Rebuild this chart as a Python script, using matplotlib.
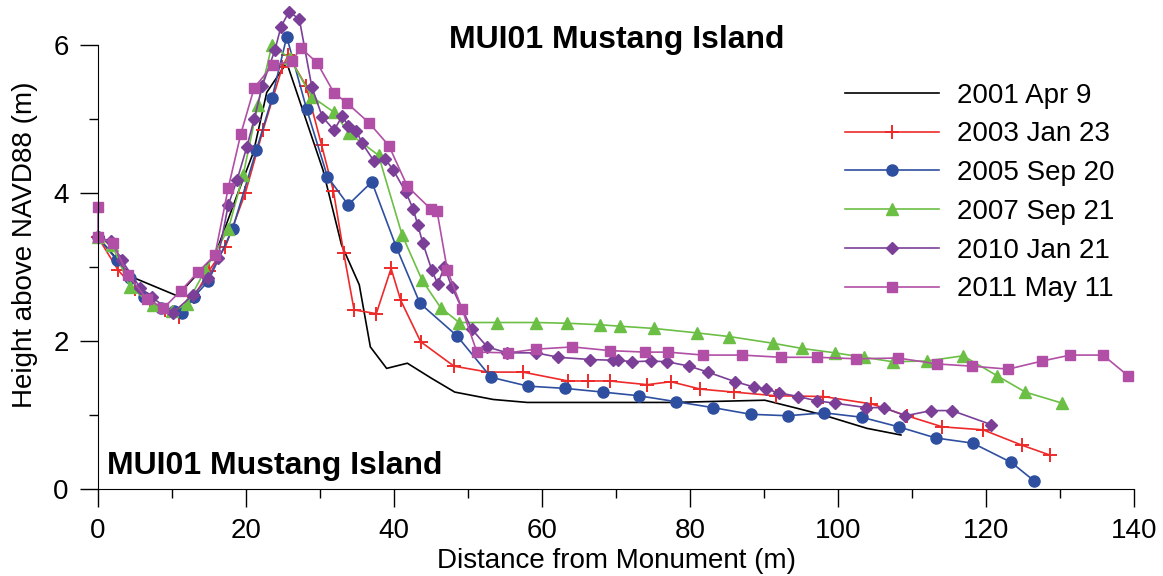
import matplotlib
matplotlib.use("Agg")
import matplotlib.pyplot as plt
from matplotlib.ticker import MultipleLocator

plt.rcParams['font.family'] = ['Liberation Sans', 'DejaVu Sans']

# 2001 Apr 9 (line only)
x_2001 = [0, 4.7, 10.7, 15.8, 18.9, 21.0, 22.8, 25.5, 30.4, 32.9, 35.3, 36.8, 39.0, 41.8, 45.0,
          48.2, 53.4, 58.0, 77.7, 90.1, 94.5, 98.0, 103.9, 108.5]
y_2001 = [3.4, 2.86, 2.61, 3.16, 4.0, 4.55, 5.36, 5.76, 4.31, 3.30, 2.76, 1.92, 1.63, 1.70, 1.50,
          1.31, 1.21, 1.17, 1.17, 1.20, 1.09, 1.0, 0.82, 0.73]

# 2003 Jan 23
x_2003 = [0, 2.7, 5.0, 7.0, 9.0, 10.9, 13.0, 15.0, 17.2, 19.9, 22.3, 24.9, 25.7, 28.1, 30.2,
          31.8, 33.2, 34.6, 37.6, 39.6, 40.9, 43.6, 48.1, 52.7, 57.4, 63.5, 66.2, 69.2, 74.2,
          77.4, 81.4, 85.9, 91.6, 98.0, 104.5, 109.3, 114.1, 119.6, 124.9, 128.6]
y_2003 = [3.4, 2.96, 2.7, 2.55, 2.42, 2.32, 2.6, 2.95, 3.27, 4.0, 4.85, 5.70, 5.86, 5.45, 4.65,
          4.03, 3.19, 2.42, 2.37, 2.98, 2.55, 1.99, 1.66, 1.58, 1.58, 1.46, 1.46, 1.46, 1.41,
          1.45, 1.35, 1.31, 1.26, 1.25, 1.15, 0.99, 0.84, 0.80, 0.59, 0.46]

# 2005 Sep 20
x_2005 = [0, 2.5, 4.3, 6.2, 8.5, 10.3, 11.3, 13.0, 14.9, 18.2, 21.4, 23.5, 25.5, 28.2, 31.0,
          33.8, 37.0, 40.3, 43.5, 48.5, 53.1, 58.1, 63.1, 68.2, 73.1, 78.1, 83.1, 88.2, 93.2,
          98.1, 103.2, 108.2, 113.2, 118.2, 123.4, 126.5]
y_2005 = [3.4, 3.1, 2.85, 2.6, 2.45, 2.4, 2.38, 2.6, 2.81, 3.52, 4.58, 5.28, 6.11, 5.13, 4.22,
          3.84, 4.15, 3.27, 2.51, 2.07, 1.51, 1.39, 1.36, 1.31, 1.26, 1.18, 1.10, 1.01, 0.99,
          1.03, 0.97, 0.84, 0.69, 0.62, 0.36, 0.11]

# 2007 Sep 21
x_2007 = [0, 1.9, 4.3, 7.4, 10.0, 12.0, 14.5, 17.6, 19.6, 21.6, 23.5, 25.9, 28.9, 31.9, 33.9,
          37.9, 41.1, 43.8, 46.3, 48.8, 53.9, 59.2, 63.4, 67.8, 70.5, 75.1, 80.9, 85.3, 91.2,
          95.1, 99.6, 103.5, 107.4, 112.0, 116.9, 121.5, 125.3, 130.3]
y_2007 = [3.4, 3.3, 2.73, 2.49, 2.4, 2.5, 2.96, 3.51, 4.24, 5.19, 6.0, 5.82, 5.30, 5.09, 4.81,
          4.51, 3.43, 2.82, 2.45, 2.25, 2.25, 2.25, 2.24, 2.22, 2.20, 2.17, 2.11, 2.06, 1.97,
          1.90, 1.84, 1.78, 1.72, 1.73, 1.80, 1.53, 1.31, 1.16]

# 2010 Jan 21
x_2010 = [0, 1.8, 3.2, 5.7, 7.3, 10.1, 12.8, 14.9, 16.2, 17.6, 18.8, 20.1, 21.1, 22.2, 23.9,
          24.7, 25.8, 27.2, 28.9, 30.3, 31.9, 33.0, 33.8, 34.9, 35.7, 37.3, 38.8, 39.9, 41.6,
          42.6, 43.2, 43.9, 45.1, 45.9, 46.8, 47.8, 50.5, 52.6, 55.3, 59.2, 62.2, 66.5, 69.6,
          70.3, 72.2, 74.7, 76.9, 79.9, 82.4, 86.1, 88.6, 90.3, 92.0, 94.6, 97.2, 99.6, 103.8,
          106.2, 109.1, 112.6, 115.4, 120.7]
y_2010 = [3.4, 3.35, 3.09, 2.72, 2.59, 2.38, 2.62, 2.85, 3.12, 3.84, 4.18, 4.62, 5.0, 5.45, 5.93,
          6.24, 6.45, 6.35, 5.43, 5.03, 4.85, 5.04, 4.91, 4.84, 4.67, 4.43, 4.46, 4.31, 4.01,
          3.78, 3.57, 3.32, 2.96, 2.77, 3.0, 2.73, 2.16, 1.92, 1.84, 1.84, 1.78, 1.75, 1.74,
          1.74, 1.72, 1.73, 1.72, 1.66, 1.58, 1.45, 1.38, 1.35, 1.30, 1.25, 1.19, 1.16, 1.10,
          1.10, 0.99, 1.06, 1.06, 0.87]

# 2011 May 11
x_2011 = [0, 0, 2.0, 4.05, 6.6, 8.8, 11.2, 13.5, 15.8, 17.6, 19.3, 21.1, 23.6, 26.2, 27.4,
          29.6, 31.9, 33.6, 36.6, 39.3, 41.8, 45.0, 45.8, 47.2, 49.2, 51.2, 55.4, 59.2, 64.1,
          69.2, 73.9, 77.0, 81.8, 87.0, 92.3, 97.2, 102.4, 108.1, 113.4, 118.1, 123.0, 127.6,
          131.4, 135.8, 139.2]
y_2011 = [3.81, 3.41, 3.32, 2.89, 2.57, 2.44, 2.68, 2.93, 3.16, 4.07, 4.80, 5.42, 5.73, 5.78, 5.96,
          5.76, 5.35, 5.22, 4.95, 4.64, 4.09, 3.78, 3.76, 2.96, 2.43, 1.85, 1.84, 1.89, 1.92,
          1.87, 1.85, 1.85, 1.81, 1.81, 1.78, 1.78, 1.76, 1.77, 1.69, 1.66, 1.62, 1.73,
          1.81, 1.81, 1.53]

labels = ["2001 Apr 9", "2003 Jan 23", "2005 Sep 20", "2007 Sep 21", "2010 Jan 21", "2011 May 11"]

fig = plt.figure(figsize=(11.63, 5.76), dpi=100)
ax = fig.add_axes([0.0843, 0.151, 0.8908, 0.848])

lw = 1.2
ax.plot(x_2001, y_2001, color='black', lw=lw, label=labels[0], clip_on=False)
ax.plot(x_2003, y_2003, color='#EE2A2A', lw=lw, marker='+', ms=10, mew=1.4, label=labels[1], clip_on=False)
ax.plot(x_2005, y_2005, color='#2E4FA0', lw=lw, marker='o', ms=8, label=labels[2], clip_on=False)
ax.plot(x_2007, y_2007, color='#6CBF45', lw=lw, marker='^', ms=8, label=labels[3], clip_on=False)
ax.plot(x_2010, y_2010, color='#7B3F98', lw=lw, marker='D', ms=6.5, label=labels[4], clip_on=False)
ax.plot(x_2011, y_2011, color='#B04FA5', lw=lw, marker='s', ms=7.5, label=labels[5], clip_on=False)

ax.set_xlim(0, 140)
ax.set_ylim(0, 6.6)
ax.spines['top'].set_visible(False)
ax.spines['right'].set_visible(False)
ax.spines['left'].set_bounds(0, 6)
ax.spines['bottom'].set_bounds(0, 140)

ax.xaxis.set_major_locator(MultipleLocator(20))
ax.xaxis.set_minor_locator(MultipleLocator(10))
ax.yaxis.set_major_locator(MultipleLocator(2))
ax.yaxis.set_minor_locator(MultipleLocator(1))
ax.set_yticks([0, 2, 4, 6])
ax.tick_params(which='major', length=13, width=1, labelsize=20, direction='out', pad=8)
ax.tick_params(which='minor', length=6.5, width=1, direction='out')

ax.set_xlabel("Distance from Monument (m)", fontsize=20, labelpad=3)
ax.set_ylabel("Height above NAVD88 (m)", fontsize=20, labelpad=11)

ax.text(0.5305, 0.9305, "MUI01 Mustang Island", transform=fig.transFigure, fontsize=23,
        fontweight='bold', ha='center', va='center')
ax.text(0.2365, 0.191, "MUI01 Mustang Island", transform=fig.transFigure, fontsize=23,
        fontweight='bold', ha='center', va='center')

leg = ax.legend(loc='upper left', bbox_to_anchor=(0.717, 0.876), bbox_transform=fig.transFigure,
                frameon=False, fontsize=20, handlelength=3.4, handletextpad=0.65,
                labelspacing=0.46, numpoints=1, borderaxespad=0)

fig.savefig("out.png", dpi=100)
